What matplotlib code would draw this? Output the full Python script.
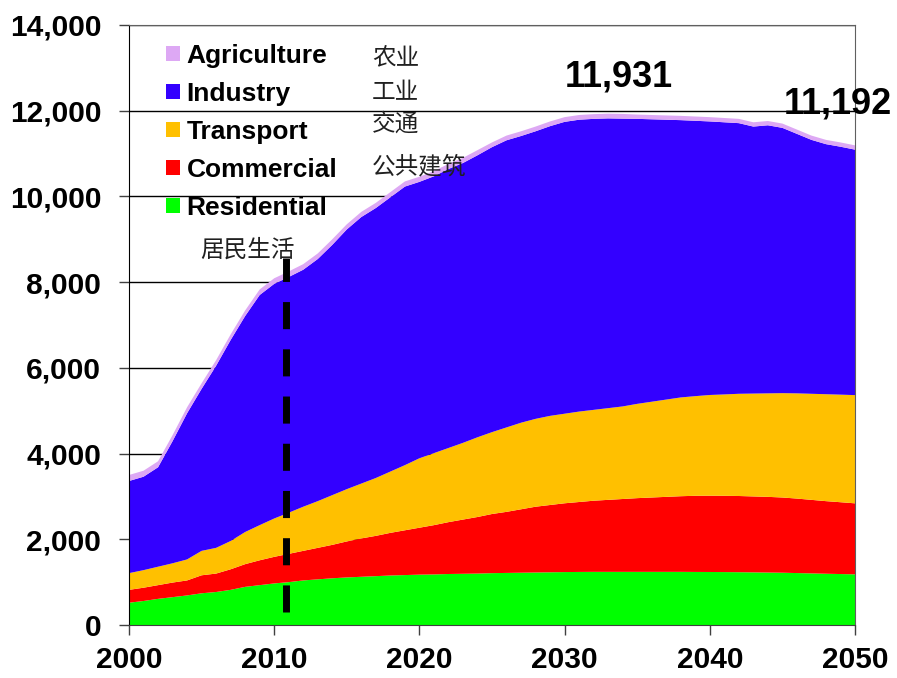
import matplotlib.pyplot as plt
from matplotlib.patches import Patch
from matplotlib.ticker import FuncFormatter

plt.rcParams['font.family'] = ['Liberation Sans', 'Noto Sans CJK SC', 'DejaVu Sans']

years = list(range(2000, 2051))

residential = [520, 560, 610, 650, 690, 740, 770, 820, 890, 930,
               970, 1000, 1040, 1065, 1090, 1110, 1125, 1140, 1155, 1165,
               1175, 1180, 1190, 1195, 1200, 1210, 1215, 1220, 1225, 1230,
               1235, 1238, 1240, 1240, 1240, 1240, 1240, 1240, 1240, 1238,
               1237, 1235, 1232, 1228, 1224, 1220, 1212, 1204, 1196, 1189,
               1182]
commercial = [300, 310, 320, 340, 350, 420, 430, 480, 530, 580,
              620, 660, 690, 735, 780, 840, 895, 940, 995, 1045,
              1095, 1150, 1210, 1265, 1320, 1380, 1425, 1480, 1535, 1570,
              1605, 1632, 1660, 1680, 1700, 1720, 1735, 1750, 1765, 1777,
              1780, 1780, 1778, 1772, 1766, 1755, 1738, 1716, 1694, 1676,
              1657]
transport = [390, 410, 430, 450, 490, 570, 600, 660, 750, 820,
             895, 960, 1030, 1090, 1160, 1220, 1280, 1350, 1430, 1520,
             1620, 1680, 1730, 1790, 1860, 1910, 1970, 2020, 2050, 2080,
             2090, 2110, 2120, 2140, 2160, 2200, 2235, 2270, 2305, 2325,
             2350, 2365, 2385, 2400, 2415, 2435, 2455, 2475, 2495, 2510,
             2525]
industry = [2150, 2180, 2320, 2850, 3410, 3780, 4250, 4690, 5040, 5370,
            5475, 5500, 5530, 5650, 5840, 6060, 6220, 6300, 6400, 6500,
            6450, 6460, 6510, 6530, 6580, 6650, 6700, 6690, 6710, 6760,
            6810, 6810, 6790, 6761, 6715, 6650, 6590, 6530, 6470, 6425,
            6383, 6350, 6315, 6230, 6255, 6190, 6055, 5925, 5835, 5785,
            5728]
agriculture = [140, 140, 140, 140, 140, 130, 130, 130, 130, 130,
               130, 130, 130, 130, 130, 120, 120, 120, 120, 120,
               120, 120, 120, 120, 120, 110, 110, 110, 110, 110,
               110, 110, 110, 110, 110, 100, 100, 100, 100, 100,
               100, 100, 100, 100, 100, 100, 100, 100, 100, 100,
               100]

sectors = ['Residential', 'Commercial', 'Transport', 'Industry', 'Agriculture']
colors = ['#00FF00', '#FF0000', '#FFC000', '#3300FF', '#DDA8F4']

total = [sum(v) for v in zip(residential, commercial, transport, industry, agriculture)]
peak = max(total)
peak_year = years[total.index(peak)]

fig = plt.figure(figsize=(8.97, 6.78), dpi=100)
ax = fig.add_axes([129 / 897, 53 / 678, 726 / 897, 600 / 678])

ax.stackplot(years, residential, commercial, transport, industry, agriculture,
             colors=colors, linewidth=0, zorder=2)

ax.set_xlim(2000, 2050)
ax.set_ylim(0, 14000)
ax.set_xticks(range(2000, 2051, 10))
ax.set_yticks(range(0, 14001, 2000))
ax.yaxis.set_major_formatter(FuncFormatter(lambda v, p: '{:,}'.format(int(v))))
ax.yaxis.grid(True, color='black', linewidth=1)
ax.set_axisbelow(True)

ax.tick_params(axis='both', direction='out', length=7, width=1, color='#404040',
               labelsize=21.5)
ax.tick_params(axis='y', pad=13)
ax.tick_params(axis='x', pad=8)
for lab in ax.get_xticklabels() + ax.get_yticklabels():
    lab.set_fontweight('bold')

for side in ['top', 'right']:
    ax.spines[side].set_color('#606060')
ax.spines['left'].set_color('black')
ax.spines['bottom'].set_color('#404040')

# 2011 marker
ax.plot([2010.8, 2010.8], [300, 8560], color='black', linewidth=5,
        linestyle=(0, (3.9, 2.9)), zorder=4)

# value labels for the peak and the final year
ax.text(peak_year + 0.7, 12780, '{:,}'.format(peak), fontsize=26, fontweight='bold',
        ha='center', va='center', zorder=5)
ax.text(years[-1] - 1.2, 12150, '{:,}'.format(total[-1]), fontsize=26, fontweight='bold',
        ha='center', va='center', zorder=5, clip_on=False)

handles = [Patch(facecolor=c, edgecolor='none') for c in colors[::-1]]
leg = ax.legend(handles, sectors[::-1], loc='upper left', bbox_to_anchor=(37 / 726, 1 - 19 / 600),
                frameon=False, prop={'weight': 'bold', 'size': 19},
                handlelength=0.53, handleheight=0.53, handletextpad=0.25,
                labelspacing=0.53, borderpad=0, borderaxespad=0)
leg.set_zorder(6)

cn = [('农业', 372, 58), ('工业', 372, 93), ('交通', 372, 124),
      ('公共建筑', 372, 167), ('居民生活', 200, 250)]
for txt, px, py in cn:
    fig.text(px / 897, 1 - py / 678, txt, fontsize=17, color='#202020',
             family=['Noto Sans CJK SC'], ha='left', va='center', zorder=6)

fig.savefig('out.png', dpi=100)
